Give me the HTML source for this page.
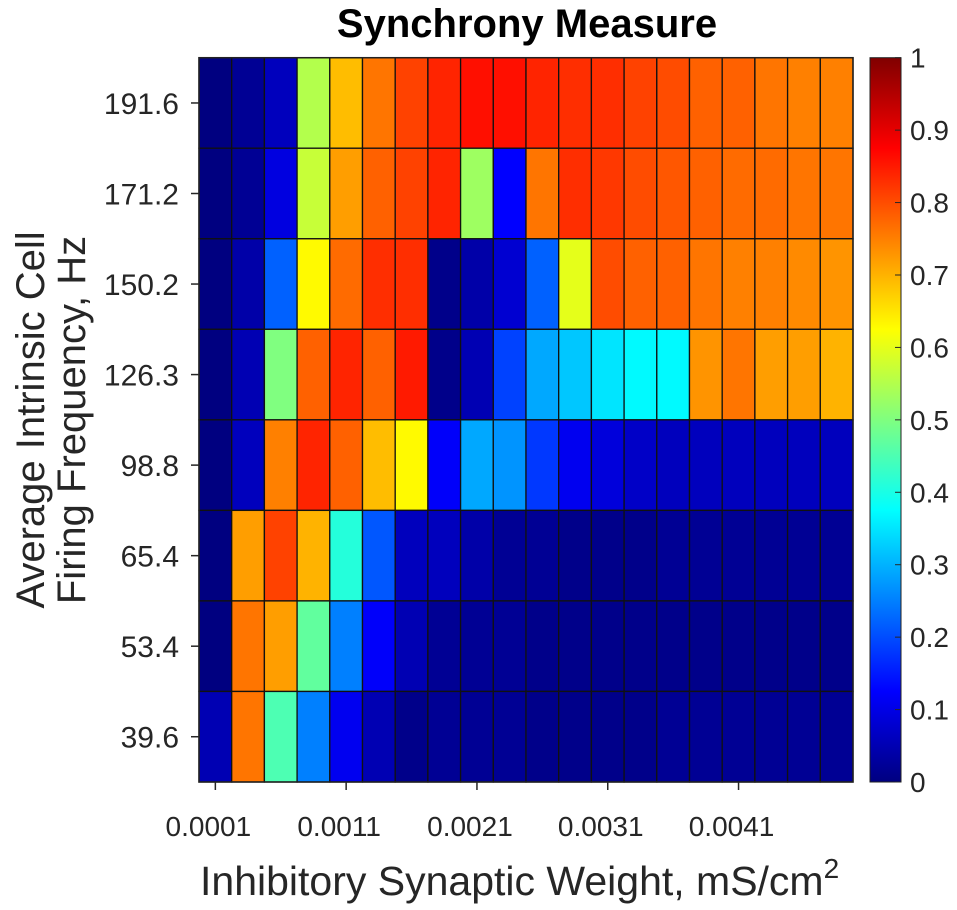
<!DOCTYPE html>
<html><head><meta charset="utf-8">
<style>
html,body{margin:0;padding:0;background:#fff;}
svg{display:block;font-family:"Liberation Sans",Arial,sans-serif;}
</style></head>
<body>
<svg id="chart" width="957" height="910" viewBox="0 0 957 910" xmlns="http://www.w3.org/2000/svg">
<defs>
<linearGradient id="jetgrad" x1="0" y1="1" x2="0" y2="0">
<stop offset="0" stop-color="#000080"/>
<stop offset="0.125" stop-color="#0000ff"/>
<stop offset="0.375" stop-color="#00ffff"/>
<stop offset="0.625" stop-color="#ffff00"/>
<stop offset="0.875" stop-color="#ff0000"/>
<stop offset="1" stop-color="#800000"/>
</linearGradient>
</defs>
<text x="527" y="37" text-anchor="middle" font-size="40" font-weight="bold" fill="#000">Synchrony Measure</text>
<g id="cells"></g>
<rect x="199" y="57.7" width="654" height="724.3" fill="none" stroke="#222" stroke-width="1.5"/>
<g id="yticks"></g>
<g id="xticks"></g>
<text transform="translate(44,420) rotate(-90)" text-anchor="middle" font-size="40" fill="#262626">Average Intrinsic Cell</text>
<text transform="translate(85,420) rotate(-90)" text-anchor="middle" font-size="40" fill="#262626">Firing Frequency, Hz</text>
<text x="200" y="895" font-size="41" fill="#262626">Inhibitory Synaptic Weight, mS/cm<tspan font-size="28" dy="-17">2</tspan></text>
<rect x="870" y="57.7" width="31" height="724.3" fill="url(#jetgrad)" stroke="#222" stroke-width="1"/>
<g id="cbticks"></g>
</svg>
<script>
const xLabels = ["0.0001","0.0011","0.0021","0.0031","0.0041"];
const xLabelCols = [0,4,8,12,16];
const yLabels = ["191.6","171.2","150.2","126.3","98.8","65.4","53.4","39.6"];
const cbTicks = [0,0.1,0.2,0.3,0.4,0.5,0.6,0.7,0.8,0.9,1];
const row191 = [0,0.02,0.06,0.55,0.69,0.76,0.81,0.84,0.86,0.86,0.84,0.83,0.83,0.81,0.8,0.78,0.78,0.76,0.75,0.75];
const row171 = [0,0.02,0.095,0.57,0.72,0.78,0.81,0.84,0.53,0.125,0.76,0.83,0.82,0.8,0.79,0.78,0.77,0.77,0.76,0.76];
const row150 = [0,0.04,0.22,0.63,0.77,0.83,0.83,0.01,0.04,0.08,0.22,0.6,0.8,0.78,0.78,0.76,0.75,0.75,0.74,0.73];
const row126 = [0,0.05,0.5,0.78,0.84,0.78,0.85,0.01,0.05,0.19,0.29,0.32,0.35,0.37,0.37,0.73,0.76,0.72,0.72,0.7];
const row98 = [0,0.06,0.75,0.84,0.78,0.69,0.63,0.12,0.29,0.27,0.18,0.11,0.09,0.07,0.06,0.06,0.06,0.06,0.06,0.06];
const row65 = [0,0.72,0.81,0.7,0.41,0.21,0.06,0.06,0.04,0.02,0.02,0.01,0.01,0.01,0.02,0.02,0.02,0.02,0.02,0.02];
const row53 = [0,0.76,0.72,0.47,0.25,0.12,0.05,0.02,0.02,0.02,0.01,0.01,0.01,0.01,0.01,0.01,0.01,0.01,0.01,0.01];
const row39 = [0.05,0.76,0.45,0.25,0.11,0.05,0.01,0.02,0.02,0.02,0.01,0.01,0.01,0.01,0.02,0.02,0.02,0.02,0.02,0.02];
const rows = [row191,row171,row150,row126,row98,row65,row53,row39];

const NS="http://www.w3.org/2000/svg";
const L=199,R=853,T=57.7,B=782;
const nCols=row191.length, nRows=rows.length;
const cw=(R-L)/nCols, rh=(B-T)/nRows;
function xPos(c){return L+c*cw;}
function yPos(r){return T+r*rh;}
function cbY(v){return B-(B-T)*v;}
function cl(x){return Math.max(0,Math.min(1,x));}
function jet(v){
  const r=cl(1.5-Math.abs(4*v-3)),g=cl(1.5-Math.abs(4*v-2)),b=cl(1.5-Math.abs(4*v-1));
  return "rgb("+Math.round(r*255)+","+Math.round(g*255)+","+Math.round(b*255)+")";
}
function mk(tag,attrs){const e=document.createElementNS(NS,tag);for(const k in attrs)e.setAttribute(k,attrs[k]);return e;}
const cells=document.getElementById('cells');
rows.forEach((row,ri)=>{row.forEach((v,ci)=>{
  const rc=mk('rect',{x:xPos(ci),y:yPos(ri),width:cw,height:rh,fill:jet(v),stroke:'#111','stroke-width':1.3});
  
  
  cells.appendChild(rc);
});});
const yt=document.getElementById('yticks');
yLabels.forEach((lab,i)=>{
  const y=yPos(i)+rh/2;
  const ln=mk('line',{x1:191,x2:199,y1:y,y2:y,stroke:'#262626','stroke-width':1.5});
  
  
  yt.appendChild(ln);
  const t=mk('text',{x:179,y:y+11,'text-anchor':'end','font-size':30,fill:'#262626'});
  
  
  t.textContent=lab;yt.appendChild(t);
});
const xt=document.getElementById('xticks');
xLabels.forEach((lab,i)=>{
  const x=xPos(xLabelCols[i])+cw/2;
  const ln=mk('line',{x1:x,x2:x,y1:782,y2:790,stroke:'#262626','stroke-width':1.5});
  
  
  xt.appendChild(ln);
  const t=mk('text',{x:x-7,y:836,'text-anchor':'middle','font-size':28,fill:'#262626'});
  
  
  t.textContent=lab;xt.appendChild(t);
});
const cb=document.getElementById('cbticks');
cbTicks.forEach(v=>{
  const y=cbY(v);
  const ln=mk('line',{x1:895,x2:901,y1:y,y2:y,stroke:'#262626','stroke-width':1});
  
  
  cb.appendChild(ln);
  const t=mk('text',{x:910,y:y+10,'font-size':28,fill:'#262626'});
  
  
  t.textContent=String(v);cb.appendChild(t);
});
</script>
</body></html>
